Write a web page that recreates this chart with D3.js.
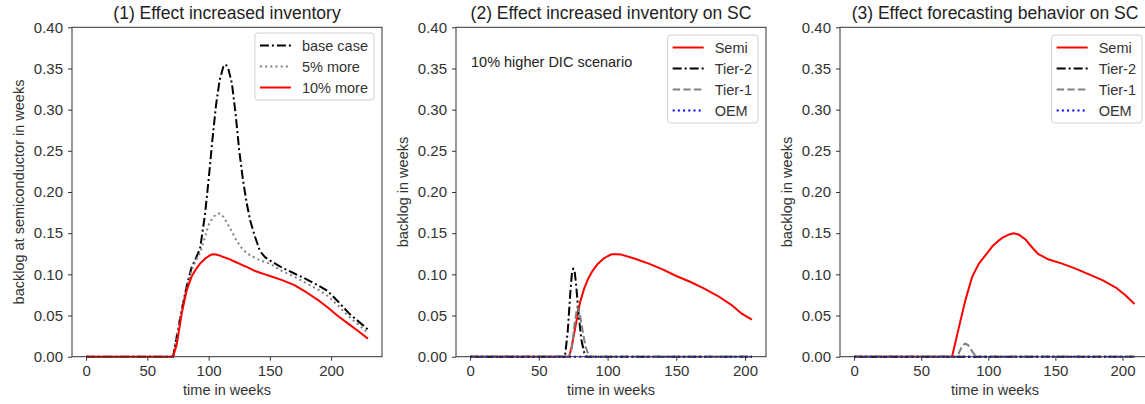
<!DOCTYPE html>
<html>
<head>
<meta charset="utf-8">
<script src="https://cdn.jsdelivr.net/npm/d3@7"></script>
<style>
  body { margin: 0; background: #fff; }
  svg { font-family: "Liberation Sans", Arial, sans-serif; }
</style>
</head>
<body>
<div id="chart"></div>
<script>
// shared ticks
const xTicks = [0, 50, 100, 150, 200];
const yTicks = [0, 0.05, 0.10, 0.15, 0.20, 0.25, 0.30, 0.35, 0.40];

// (1) effect increased inventory
const p1Weeks  = [0, 71, 74, 78, 82, 86, 90, 93, 97, 100, 103, 106, 109, 112, 114, 116, 119, 122, 125, 128, 131, 134, 138, 142, 146, 150, 160, 170, 180, 190, 197, 205, 215, 223, 230];
const p1Base   = [0, 0, 0.025, 0.057, 0.085, 0.108, 0.121, 0.131, 0.172, 0.215, 0.262, 0.305, 0.336, 0.352, 0.355, 0.350, 0.332, 0.295, 0.250, 0.215, 0.187, 0.165, 0.145, 0.128, 0.121, 0.117, 0.108, 0.101, 0.094, 0.086, 0.080, 0.068, 0.052, 0.042, 0.033];
const p1More5  = [0, 0, 0.025, 0.057, 0.083, 0.105, 0.118, 0.126, 0.145, 0.160, 0.168, 0.173, 0.174, 0.170, 0.165, 0.160, 0.152, 0.143, 0.136, 0.130, 0.126, 0.123, 0.120, 0.117, 0.115, 0.113, 0.104, 0.097, 0.089, 0.081, 0.074, 0.063, 0.048, 0.038, 0.029];
const p1More10 = [0, 0, 0.015, 0.052, 0.080, 0.097, 0.107, 0.113, 0.119, 0.122, 0.1245, 0.124, 0.123, 0.121, 0.120, 0.119, 0.117, 0.115, 0.113, 0.111, 0.109, 0.107, 0.104, 0.102, 0.100, 0.098, 0.093, 0.087, 0.078, 0.068, 0.060, 0.050, 0.039, 0.030, 0.022];

// (2) effect increased inventory on SC
const p2SemiWeeks  = [0, 72, 74, 77, 80, 83, 86, 89, 93, 97, 100, 103, 106, 110, 120, 130, 140, 150, 160, 170, 180, 190, 197, 205];
const p2Semi       = [0, 0, 0.013, 0.040, 0.066, 0.083, 0.095, 0.104, 0.113, 0.119, 0.122, 0.1245, 0.1245, 0.124, 0.119, 0.113, 0.106, 0.098, 0.091, 0.083, 0.074, 0.063, 0.053, 0.045];
const p2Tier2Weeks = [0, 69, 71, 73, 74, 75, 76, 77, 79, 81, 83, 85, 205];
const p2Tier2      = [0, 0, 0.030, 0.080, 0.100, 0.107, 0.104, 0.090, 0.050, 0.020, 0.005, 0, 0];
const p2Tier1Weeks = [0, 72, 74, 76, 78, 80, 82, 84, 86, 88, 205];
const p2Tier1      = [0, 0, 0.010, 0.040, 0.061, 0.050, 0.030, 0.012, 0.003, 0, 0];
const p2OemWeeks   = [0, 205];
const p2Oem        = [0, 0];

// (3) effect forecasting behavior on SC
const p3SemiWeeks  = [0, 73, 78, 83, 88, 93, 99, 103, 107, 111, 115, 119, 123, 128, 133, 137, 145, 155, 165, 175, 185, 195, 202, 209];
const p3Semi       = [0, 0, 0.035, 0.069, 0.097, 0.113, 0.1255, 0.134, 0.140, 0.145, 0.148, 0.150, 0.148, 0.142, 0.132, 0.125, 0.118, 0.113, 0.107, 0.100, 0.093, 0.084, 0.075, 0.064];
const p3Tier2Weeks = [0, 209];
const p3Tier2      = [0, 0];
const p3Tier1Weeks = [0, 77, 79, 81, 83, 85, 87, 89, 91, 93, 209];
const p3Tier1      = [0, 0, 0.008, 0.014, 0.016, 0.014, 0.009, 0.004, 0.001, 0, 0];
const p3OemWeeks   = [0, 209];
const p3Oem        = [0, 0];

const styles = {
  base:  {color: "#000000", dash: "9,3,2,3"},
  more5: {color: "#808080", dash: "2,3.2"},
  red:   {color: "#ff0000", dash: null},
  tier2: {color: "#000000", dash: "9,3,2,3"},
  tier1: {color: "#808080", dash: "7.4,3.2"},
  oem:   {color: "#0000ff", dash: "2,3.2"}
};

const zip = (w, v) => w.map((d, i) => ({x: d, y: v[i]}));

const panels = [
  {
    left: 72, xDomain: [-11.5, 241.5],
    title: "(1) Effect increased inventory",
    ylabel: "backlog at semiconductor in weeks",
    series: [
      {name: "base case", st: styles.base, data: zip(p1Weeks, p1Base)},
      {name: "5% more", st: styles.more5, data: zip(p1Weeks, p1More5)},
      {name: "10% more", st: styles.red, data: zip(p1Weeks, p1More10)}
    ],
    legendTop: 33
  },
  {
    left: 456, xDomain: [-10.25, 215.25],
    title: "(2) Effect increased inventory on SC",
    ylabel: "backlog in weeks",
    note: "10% higher DIC scenario",
    series: [
      {name: "Semi", st: styles.red, data: zip(p2SemiWeeks, p2Semi)},
      {name: "Tier-2", st: styles.tier2, data: zip(p2Tier2Weeks, p2Tier2)},
      {name: "Tier-1", st: styles.tier1, data: zip(p2Tier1Weeks, p2Tier1)},
      {name: "OEM", st: styles.oem, data: zip(p2OemWeeks, p2Oem)}
    ],
    legendTop: 35
  },
  {
    left: 840, xDomain: [-10.5, 220.5],
    title: "(3) Effect forecasting behavior on SC",
    ylabel: "backlog in weeks",
    series: [
      {name: "Semi", st: styles.red, data: zip(p3SemiWeeks, p3Semi)},
      {name: "Tier-2", st: styles.tier2, data: zip(p3Tier2Weeks, p3Tier2)},
      {name: "Tier-1", st: styles.tier1, data: zip(p3Tier1Weeks, p3Tier1)},
      {name: "OEM", st: styles.oem, data: zip(p3OemWeeks, p3Oem)}
    ],
    legendTop: 35
  }
];

const W = 1145, H = 404;
const plotTop = 27.3, plotBottom = 356.7, pw = 310;
const ink = "#333";

const svg = d3.select("#chart").append("svg")
  .attr("width", W).attr("height", H);

panels.forEach(p => {
  const g = svg.append("g");
  const x = d3.scaleLinear().domain(p.xDomain).range([p.left, p.left + pw]);
  const y = d3.scaleLinear().domain([0, 0.4]).range([plotBottom, plotTop]);

  // lines
  const line = d3.line().x(d => x(d.x)).y(d => y(d.y));
  p.series.forEach(s => {
    g.append("path")
      .datum(s.data)
      .attr("d", line)
      .attr("fill", "none")
      .attr("stroke", s.st.color)
      .attr("stroke-width", 2)
      .attr("stroke-dasharray", s.st.dash)
      .attr("stroke-linejoin", "round");
  });

  // frame
  g.append("rect")
    .attr("x", p.left).attr("y", plotTop)
    .attr("width", pw).attr("height", plotBottom - plotTop)
    .attr("fill", "none").attr("stroke", ink).attr("stroke-width", 1);

  const xAxis = g.append("g")
    .attr("transform", `translate(0,${plotBottom})`)
    .call(d3.axisBottom(x).tickValues(xTicks).tickSize(4).tickPadding(5));
  const yAxis = g.append("g")
    .attr("transform", `translate(${p.left},0)`)
    .call(d3.axisLeft(y).tickValues(yTicks).tickFormat(d3.format(".2f")).tickSize(4).tickPadding(5));
  [xAxis, yAxis].forEach(a => {
    a.select(".domain").remove();
    a.selectAll("line").attr("stroke", ink);
    a.selectAll("text").attr("fill", ink).style("font-size", "15px")
      .style("font-family", "'Liberation Sans', Arial, sans-serif");
  });

  // titles and labels
  g.append("text")
    .attr("x", p.left + pw / 2).attr("y", 18.5)
    .attr("text-anchor", "middle")
    .style("font-size", "17.5px").attr("fill", "#222")
    .text(p.title);

  g.append("text")
    .attr("x", p.left + pw / 2).attr("y", 395)
    .attr("text-anchor", "middle")
    .style("font-size", "14.5px").attr("fill", ink)
    .text("time in weeks");

  g.append("text")
    .attr("transform", `translate(${p.left - 48},${(plotTop + plotBottom) / 2}) rotate(-90)`)
    .attr("text-anchor", "middle")
    .style("font-size", "14.5px").attr("fill", ink)
    .text(p.ylabel);

  if (p.note) {
    g.append("text")
      .attr("x", p.left + 15).attr("y", 67)
      .style("font-size", "14.5px").attr("fill", "#222")
      .text(p.note);
  }

  // legend
  const lg = g.append("g");
  const box = lg.append("rect");
  const items = lg.selectAll("g.item").data(p.series).enter().append("g")
    .attr("transform", (d, i) => `translate(0,${p.legendTop + 12.5 + i * 21})`);
  items.append("line")
    .attr("x1", 5).attr("x2", 36)
    .attr("stroke", d => d.st.color)
    .attr("stroke-width", 2)
    .attr("stroke-dasharray", d => d.st.dash);
  const labels = items.append("text")
    .attr("x", 47).attr("dy", "0.35em")
    .style("font-size", "14.5px").attr("fill", ink)
    .text(d => d.name);
  let maxW = 0;
  labels.each(function() { maxW = Math.max(maxW, this.getComputedTextLength()); });
  const lw = 47 + maxW + 6;
  const lh = p.series.length * 21 + 4;
  box.attr("width", lw).attr("height", lh).attr("rx", 3)
    .attr("y", p.legendTop)
    .attr("fill", "#fff").attr("fill-opacity", 0.8)
    .attr("stroke", "#d0d0d0").attr("stroke-width", 1);
  lg.attr("transform", `translate(${p.left + pw - 8 - lw},0)`);
});
</script>
</body>
</html>
